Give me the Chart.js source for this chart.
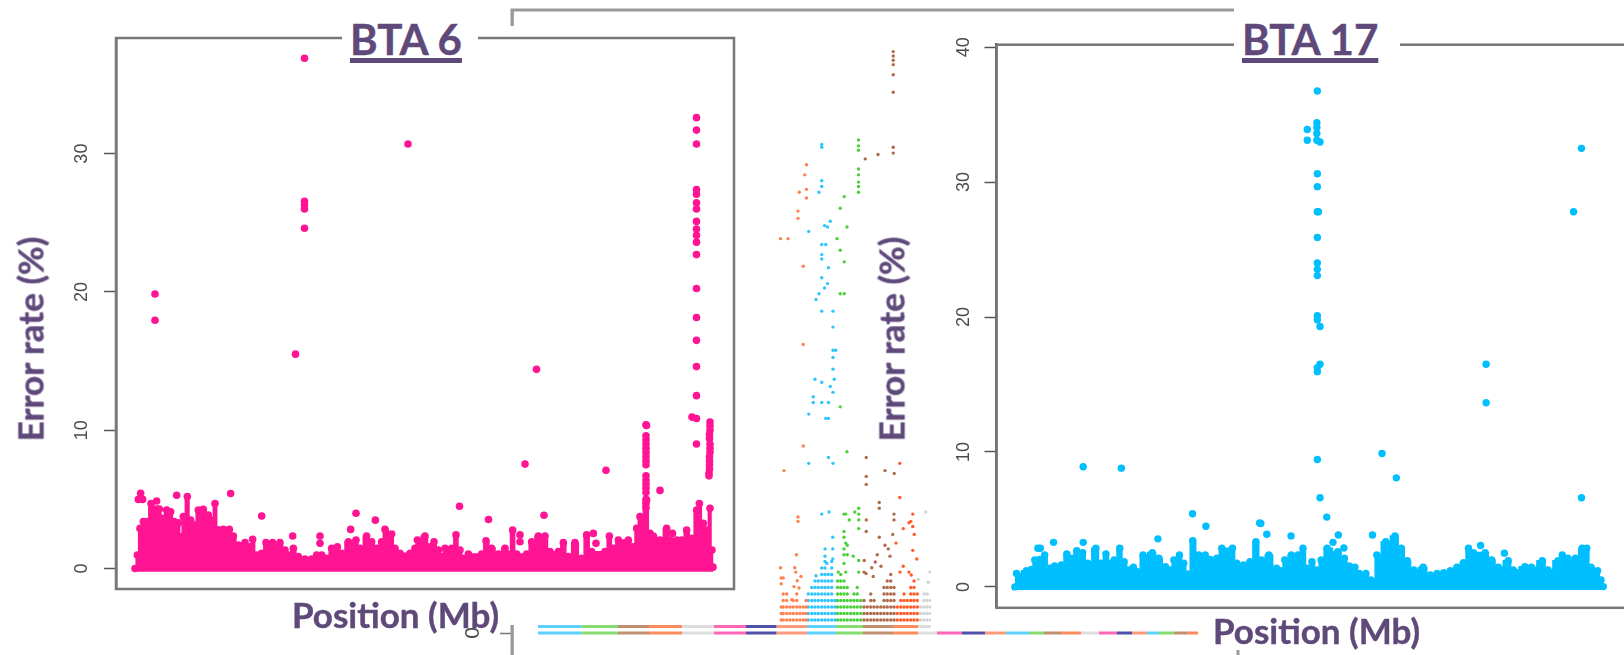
<!DOCTYPE html>
<html><head><meta charset="utf-8">
<script src="https://cdn.jsdelivr.net/npm/chart.js@4"></script>
<style>
html,body{margin:0;padding:0;background:#fff;width:1624px;height:655px;overflow:hidden}
canvas{position:absolute;background:transparent;filter:blur(.5px)}
#cMid{left:440px;top:0;z-index:1;filter:blur(.7px)}
#c6{left:0;top:26px;z-index:2;background:#fff}
#c17{left:931px;top:14px;z-index:2;background:#fff}
.t{position:absolute;z-index:3;font-family:Lato,"Open Sans",sans-serif;font-weight:700;color:#5F497A;white-space:nowrap;line-height:1;-webkit-text-stroke:.4px #5F497A}
.h{font-size:42px;background:#fff;text-align:left;box-sizing:border-box;padding-left:8px;height:66px;padding-top:18px;text-decoration:underline;text-decoration-thickness:5px;text-underline-offset:3px}
</style></head><body>
<canvas id="cMid" width="810" height="670"></canvas>
<canvas id="c6" width="778" height="599"></canvas>
<canvas id="c17" width="700" height="617"></canvas>
<div class="t h" style="left:342px;top:0;width:136px">BTA 6</div>
<div class="t h" style="left:1234px;top:0;width:166px">BTA 17</div>
<div class="t" style="font-size:35px;left:30px;top:339px;transform:translate(-50%,-50%) rotate(-90deg)">Error rate (%)</div>
<div class="t" style="font-size:35px;left:891px;top:339px;transform:translate(-50%,-50%) rotate(-90deg)">Error rate (%)</div>
<div class="t" style="font-size:35px;left:292px;top:597px">Position (Mb)</div>
<div class="t" style="font-size:35px;left:1205px;top:610px;padding:3px 6px 2px 8px;background:#fff">Position (Mb)</div>
<script>
const yTicks6 = [0,10,20,30];
const yTicks17 = [0,10,20,30,40];
const yTicksMid = [0];

const bta6Skyline = [[0,0],[0.47,0.98],[1,2.9],[1.67,3.4],[2.33,3.4],[3.2,4.7],[4.33,4.3],[4.87,4.3],[5.47,3.63],[6.33,4.23],[7.13,4.1],[7.8,3.4],[8.67,3.3],[9.2,2.3],[9.67,3.75],[10.47,5.2],[11.13,3.5],[11.8,3.15],[12.67,4.23],[13.67,4.28],[14.67,3.87],[15.33,3.5],[16,4.7],[16.67,2.8],[17.67,2.83],[18.87,2.83],[19.67,2.35],[20.67,1.7],[22,1.87],[23,1.58],[23.53,2.11],[24.33,0.98],[25.33,1.1],[26.2,1.87],[27.53,1.87],[29,1.87],[30,1.34],[30.67,0.98],[31.67,1.46],[32.67,0.86],[34,0.69],[35.33,0.69],[35.8,0.25],[36.33,0.98],[37.33,0.98],[38.33,0.74],[39.33,1.46],[40.47,1.58],[41.33,1.1],[42.67,1.94],[44.2,2.06],[45,1.46],[46.33,2.35],[47.33,1.94],[48.33,1.46],[49.33,1.94],[50,2.83],[51.33,2.49],[52,1.46],[53,1.1],[55,1.1],[56,1.46],[56.47,2.06],[58,2.35],[59,1.58],[59.8,1.94],[60.67,1.34],[61.33,0.86],[62,1.46],[63.33,1.46],[64.2,2.43],[65,1.34],[65.67,0.74],[66.67,1.05],[69.33,1.05],[70.2,2],[71.33,1.46],[72.67,1.05],[74,1.46],[74.67,1.05],[75.53,2.78],[76.33,1.05],[78.33,1.05],[79.33,1.94],[80.67,2.35],[82,2.35],[83,1.22],[84.67,1.22],[85.67,1.87],[86.67,0.86],[88,1.87],[89.33,0.74],[90.33,2.43],[91.33,1.22],[94,1.22],[94.87,2.35],[95.67,1.46],[96.67,2.06],[98.67,2.06],[99.67,1.58],[100.33,2.9],[101,3.75],[102.33,4.95],[103,2.54],[103.67,2.35],[105,2.06],[106.33,2.9],[107,2.06],[108.33,2.06],[109.33,2.06],[110.33,2.78],[111.33,2.18],[112.33,4.23],[112.87,4.7],[113.67,3.27],[114.33,2.78],[115,4.35],[115.4,1.34],[115.6,0.1]];
const bta6Outliers = [[33.9,36.9],[4,19.85],[4,17.95],[33.9,26.55],[33.9,26.3],[33.9,26],[33.9,24.6],[32.1,15.5],[54.6,30.7],[80.3,14.4],[78,7.55],[94.2,7.1],[81.8,3.85],[70.7,3.55],[64.9,4.5],[105,5.65],[1.13,5.44],[0.67,5],[1.53,5],[8.33,5.3],[19.13,5.43],[25.33,3.8],[31.53,2.35],[44.2,4],[48.07,3.5],[43.13,2.83],[37,2.35],[37,1.82],[4.33,4.88],[91.67,2.54],[92.2,1.82],[77,2.43],[77,1.94],[107.5,2.54]];
const bta6TowerA = [[112.3,32.6],[112.3,31.7],[112.3,30.7],[112.3,27.4],[112.3,27.06],[112.3,26.45],[112.3,26],[112.3,25.1],[112.3,24.55],[112.3,24.1],[112.3,23.6],[112.3,22.7],[112.3,20.25],[112.3,18.15],[112.3,16.5],[112.3,14.6],[112.3,12.5],[111.4,10.95],[112.3,10.85],[112.3,9]];
const bta6TowerB = [[102.2,10.4],[102.3,10.35],[102.2,9.6],[102.2,9.3],[102.2,9],[102.2,8.7],[102.2,8.4],[102.2,8.1],[102.2,7.8],[102.2,7.5],[102.2,6.7],[102.2,6.4],[102.2,6.1],[102.2,5.8],[102.2,5.5],[102.2,5],[102.2,4.7],[102.2,4.4]];
const bta6TowerC = [[115,10.6],[115,10.3],[115,10],[114.9,9.7],[114.9,9.4],[115,9],[115,8.7],[115,8.4],[114.9,8.1],[114.9,7.8],[114.9,7.5],[114.9,7.2],[114.8,6.9],[114.8,6.7]];

const bta17Skyline = [[0,0],[0.21,1],[1.46,1.2],[2.08,1.3],[2.5,2],[3.13,2.04],[3.75,2.36],[4.38,1.38],[5,1.55],[5.83,1.62],[6.54,2.44],[7.08,2.12],[7.79,2.69],[8.54,2.54],[9.17,1.75],[10.2,2.86],[10.83,1.75],[11.46,2.44],[12.08,1.75],[12.5,2],[13.2,2.86],[13.75,1.87],[14.38,1.25],[14.92,1.45],[15.42,1.13],[16.13,2.36],[17.3,2.54],[18.13,2.12],[18.96,1.5],[19.58,1.25],[20,2],[20.71,2.36],[21.25,1.75],[21.75,0.95],[22.38,3.43],[23.13,2.36],[23.96,2.36],[24.58,2.04],[25.42,2.12],[26.04,2.86],[27.38,2.86],[27.92,1.75],[28.75,1.62],[29.58,1.87],[30.33,3.35],[31.04,2],[31.96,2.36],[32.92,1.38],[33.54,1.2],[33.96,2],[34.79,2.36],[35.63,2.36],[36.25,2.86],[36.88,1.38],[37.38,1.87],[38.04,1.25],[38.54,2],[39.29,2.86],[40.63,2.61],[41.46,2.12],[42.08,1.55],[42.79,1.45],[43.33,1],[44.17,1],[44.79,0.51],[45.13,0.39],[45.54,2.36],[46.67,3.35],[47.83,3.77],[48.63,2.86],[49.38,1.94],[50.21,1.25],[51.38,1.45],[52.29,0.88],[53.13,1],[53.96,1.05],[54.79,1.2],[55.63,1.45],[56.46,1.8],[57.08,2.86],[57.71,2.54],[59.17,2.54],[60,2],[60.83,1.45],[62.08,1.94],[62.71,1.25],[64.17,1.5],[65,1.45],[66.38,1.94],[67.08,1.25],[68.33,1.94],[68.88,2.36],[69.58,2.12],[70.54,2.12],[71.38,2.86],[71.96,2.86],[72.5,1.45],[73.33,1.2],[73.75,0.51],[74.04,0.02]];
const bta17Outliers = [[8.6,8.9],[13.4,8.8],[38.06,36.75],[38,34.4],[38,34.05],[38,33.6],[38,33.1],[38.4,32.97],[36.8,33.9],[36.8,33.1],[38.06,30.62],[38.06,29.66],[38.06,27.8],[38.2,27.8],[38.06,25.9],[38.06,24],[38.06,23.53],[38.06,23.07],[38.06,20.1],[38.06,19.8],[38.4,19.3],[38.4,16.5],[38.06,16.25],[38.06,15.95],[38.06,9.44],[38.4,6.6],[39.25,5.17],[46.2,9.88],[48,8.08],[59.3,16.5],[59.3,13.65],[71.3,32.5],[70.3,27.8],[71.3,6.6],[22.35,5.42],[24.04,4.49],[30.8,4.74],[30.95,4.7],[31.7,3.9],[34.75,3.78],[40.7,3.84],[40.03,3.3],[41.4,2.88],[45,3.84],[18,3.56],[8.6,3.3],[4.87,3.3],[58.6,3.07],[61.6,2.5],[2.9,2.86],[3.2,2.86]];

const midChromStarts = [0,174,320,444,576,704,832,954,1076,1192,1300,1420,1520,1596,1696,1788,1872,1964,2024,2092,2172,2244,2316,2376,2436,2484,2544,2596,2640];
const midStripLevels = [0,0.45];
const midRungStep = 0.448;
const midStripColors = ["#5CD0FF","#85DD70","#C08F70","#FF8A5C","#DEDEDE","#FF66B8","#5050AA","#FF9A78"];

const midCoralColumns = [[973,4],[981,6],[995,6],[1008,4],[1021,5],[1035,6],[1048,4],[1061,4],[1072,5]];
const midBlueColumns = [[1081,6],[1095,7],[1108,8],[1121,8],[1135,10],[1148,11],[1161,9],[1175,11],[1188,5]];
const midGreenColumns = [[1198,8],[1211,9],[1224,8],[1237,7],[1251,5],[1264,6],[1277,7],[1291,5]];
const midBrownColumns = [[1304,5],[1317,4],[1331,6],[1344,5],[1357,4],[1371,4],[1384,7],[1397,8],[1411,9],[1424,7]];
const midRedColumns = [[1437,4],[1451,5],[1464,6],[1477,5],[1491,7],[1504,8],[1517,6]];
const midGrayColumns = [[1530,4],[1544,6],[1557,6],[1571,5]];

const midCoralPoints = [[1074,32.3],[1067,31.6],[1045,30.4],[1074,30.6],[1074,30],[1040,29.1],[1040,28.6],[970,27.2],[1000,27.2],[1061,25.3],[1061,19.9],[1061,12.9],[984,11.2],[1040,8],[1040,7.7],[1034,5.4],[970,4.5],[1027,4.5],[973,3.8],[981,3.8],[973,3.4],[1031,4.2],[1052,3.9],[1037,3.6],[1044,3.1],[1024,3.2],[1015,2.3]];
const midBluePoints = [[1135,33.7],[1135,33.5],[1135,31.2],[1135,30.8],[1124,30.4],[1083,27.7],[1146,28.1],[1169,28.4],[1158,28],[1135,26.8],[1151,26.8],[1135,26.1],[1135,25.8],[1162,25.2],[1135,24.5],[1158,24.1],[1146,23.8],[1124,23.4],[1112,23],[1135,22.2],[1180,22.2],[1180,21.1],[1180,19.5],[1191,19.5],[1180,19],[1180,18.2],[1185,17.5],[1108,17.5],[1135,17.3],[1169,17],[1180,16.6],[1101,16.3],[1101,15.9],[1135,15.9],[1162,15.9],[1083,15.1],[1151,14.8],[1162,14.8],[1083,11.7],[1162,12.1],[1180,11.7],[1112,3.95],[1135,8.2],[1164,8.35],[1179,6.6],[1148,5.8],[1179,5.8],[1148,5.3],[1179,5.1],[1155,4.8]];
const midGreenPoints = [[1282,34],[1282,33.6],[1282,33.3],[1282,32],[1282,31.6],[1282,31.1],[1282,30.8],[1282,30.4],[1225,30.1],[1209,29.3],[1236,28],[1196,27.2],[1209,26.4],[1225,25.6],[1225,23.4],[1209,23.4],[1209,15.6],[1236,12.5],[1224,8.2],[1231,8.2],[1267,8.35],[1283,8.6],[1283,8.2],[1245,7.8],[1283,7.8],[1224,7],[1283,7.2],[1224,6.6],[1231,6.2],[1224,5.8],[1237,6.05],[1224,5.4],[1237,5.4],[1261,5.3],[1283,5],[1224,4.8],[1231,4.2],[1283,4.2],[1201,4.2]];
const midBrownPoints = [[1421,40.1],[1421,39.8],[1421,39.5],[1421,39.2],[1421,38.5],[1421,37.3],[1421,33.5],[1421,33.1],[1360,33],[1309,32.7],[1313,12.1],[1313,10.8],[1313,10.25],[1365,9],[1365,8.6],[1388,11.2],[1425,11],[1424,8.2],[1424,7.8],[1313,7.8],[1313,7],[1365,6.6],[1419,6.8],[1388,6.05],[1401,5.8],[1357,5.4],[1408,5.3],[1305,5],[1349,4.9],[1335,4.5],[1372,4.6],[1304,4.2],[1312,4.1],[1341,3.9]];
const midRedPoints = [[1447,11.7],[1447,9.35],[1499,8.2],[1491,7.7],[1484,7.6],[1461,7.2],[1499,7.35],[1505,6.8],[1432,6.2],[1499,5.7],[1515,5.1],[1461,4.6],[1448,4.2],[1484,4.2],[1493,4]];
const midGrayPoints = [[1551,8.35],[1568,4.2],[1521,3.7],[1561,3.5]];

const toXY = a => a.map(p => ({x:p[0], y:p[1]}));
const rungs = cols => cols.flatMap(c => Array.from({length:Math.max(0,c[1]-1)}, (_,i) => ({x:c[0], y:(i+2)*midRungStep})));

function frame(color,w){
  return {id:'frame', afterDatasetsDraw(ch){
    const a=ch.chartArea, c=ch.ctx; c.save(); c.strokeStyle=color; c.lineWidth=w;
    c.strokeRect(a.left,a.top,a.right-a.left,a.bottom-a.top); c.restore();
  }};
}
function yAxis(ticks,min,max,width,pad,tickColor,fontSize){
  return {type:'linear',min,max,position:'left',
    afterBuildTicks:s=>{s.ticks=ticks.map(value=>({value}));},
    afterFit:s=>{s.width=width;s.paddingTop=0;s.paddingBottom=0;s.paddingLeft=0;s.paddingRight=0;},
    border:{display:true,color:tickColor,width:2.5},
    grid:{display:true,drawOnChartArea:false,drawTicks:true,tickLength:12,tickColor:tickColor,tickWidth:1.5},
    ticks:{minRotation:90,maxRotation:90,crossAlign:'center',padding:pad,color:'#4a4a4a',
      font:{family:'"Liberation Sans"',size:fontSize},callback:v=>String(v)}};
}
function baseOpts(xmin,xmax,y,padding){
  return {responsive:false,animation:false,layout:{padding},
    plugins:{legend:{display:false},tooltip:{enabled:false},title:{display:false}},
    scales:{x:{type:'linear',min:xmin,max:xmax,display:false},y}};
}
function spotSet(pts,color,r){
  return {data:pts,backgroundColor:color,borderColor:color,pointRadius:r,pointBorderWidth:0,showLine:false};
}
function skySet(pts,color,r){
  return {data:toXY(pts),showLine:true,stepped:'middle',borderColor:color,backgroundColor:color,borderWidth:1.5,
    pointBackgroundColor:color,pointBorderWidth:0,pointRadius:r,fill:{value:-0.23},borderJoinStyle:'round'};
}

const pink="#FF1493", sky="#00BFFF";
new Chart(document.getElementById('c6'),{type:'scatter',
  data:{datasets:[skySet(bta6Skyline,pink,3.8),spotSet(toXY(bta6Outliers),pink,3.8),spotSet(toXY(bta6TowerA),pink,3.8),spotSet(toXY(bta6TowerB),pink,3.8),spotSet(toXY(bta6TowerC),pink,3.8)]},
  options:baseOpts(-3.8,119.8,yAxis(yTicks6,-1.48,38.36,116,12,'#555',18),{top:12,right:44,bottom:36,left:0}),
  plugins:[frame('#777',2.5)]});
new Chart(document.getElementById('c17'),{type:'scatter',
  data:{datasets:[skySet(bta17Skyline,sky,3.7),spotSet(toXY(bta17Outliers),sky,3.7)]},
  options:baseOpts(-2.31,76.9,yAxis(yTicks17,-1.55,40.18,65.5,10,'#555',18),{top:30.7,right:5,bottom:23.2,left:0}),
  plugins:[frame('#777',2.5)]});

const midStrips=[];
midStripLevels.forEach(level=>{
  for(let i=0;i<midChromStarts.length-1;i++){
    const col=midStripColors[i%midStripColors.length];
    midStrips.push({data:[{x:midChromStarts[i],y:level},{x:midChromStarts[i+1],y:level}],showLine:true,borderColor:col,borderWidth:3,pointRadius:0});
  }
});
const midGroups=[[midCoralColumns,midCoralPoints,"#FF8050"],[midBlueColumns,midBluePoints,"#30C4FF"],[midGreenColumns,midGreenPoints,"#4CCF3A"],[midBrownColumns,midBrownPoints,"#B06A4C"],[midRedColumns,midRedPoints,"#FF5A2A"],[midGrayColumns,midGrayPoints,"#D2D2D2"]];
const midDots=midGroups.map(g=>spotSet(rungs(g[0]).concat(toXY(g[1])),g[2],1.7));
new Chart(document.getElementById('cMid'),{type:'scatter',
  data:{datasets:midStrips.concat(midDots)},
  options:baseOpts(-104,2800,yAxis(yTicksMid,-1.862,42.97,72,21,'#777',21),{top:10,right:12,bottom:10,left:0}),
  plugins:[frame('#999',3)]});
</script>
</body></html>
